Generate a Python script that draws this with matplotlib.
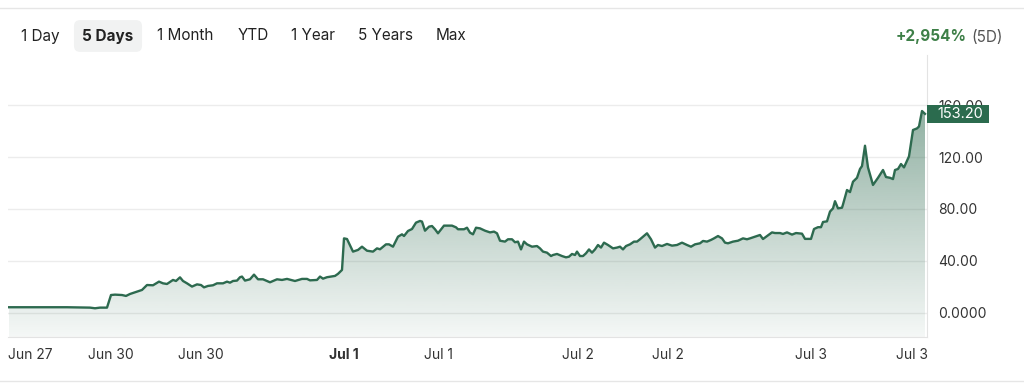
import numpy as np
import matplotlib
matplotlib.use('Agg')
import matplotlib.pyplot as plt
from matplotlib.lines import Line2D
from matplotlib.patches import Rectangle

plt.rcParams['font.family'] = ['Inter', 'DejaVu Sans']

# Время (условные единицы по оси x) и цена
t = [1, 25, 59, 82, 87, 92, 99, 103, 107, 114, 118, 122, 129, 134, 139, 145, 151, 155, 159,
     165, 168, 172, 175, 179, 184, 189, 193, 196, 200, 205, 209, 215, 219, 222, 225, 229,
     232, 234, 237, 242, 246, 250, 255, 262, 269, 274, 279, 287, 294, 299, 302, 309, 312,
     315, 319, 327, 330, 334, 336, 339, 345, 350, 354, 359, 365, 369, 372, 378, 381, 385,
     390, 394, 396, 400, 404, 408, 412, 414, 417, 421, 424, 427, 430, 436, 444, 448, 450,
     456, 459, 462, 465, 468, 472, 477, 482, 486, 489, 492, 497, 500, 504, 507, 510, 513,
     516, 519, 524, 529, 532, 535, 539, 543, 545, 549, 554, 558, 561, 564, 567, 569, 572,
     575, 578, 581, 584, 587, 590, 593, 596, 600, 605, 609, 612, 615, 618, 622, 626, 629,
     632, 639, 643, 647, 650, 654, 659, 664, 669, 674, 679, 683, 687, 692, 695, 699, 703,
     706, 710, 714, 717, 720, 725, 730, 735, 739, 742, 747, 752, 755, 764, 767, 772, 775,
     779, 784, 788, 794, 797, 803, 806, 810, 813, 815, 819, 822, 825, 827, 830, 834, 835,
     839, 842, 845, 849, 852, 854, 857, 860, 865, 870, 875, 878, 882, 885, 887, 890, 893,
     896, 901, 905, 909, 911, 914, 917]
price = [4.4, 4.4, 4.4, 4.1, 3.6, 4.1, 4.1, 13.8, 14.1, 13.8, 13.1, 14.6, 16.4, 17.7, 21.5,
         21.3, 24.1, 22.8, 22.3, 25.4, 24.6, 27.4, 24.6, 22.8, 20.3, 22.0, 21.5, 19.7, 20.8,
         21.3, 22.8, 22.8, 24.1, 23.3, 24.6, 24.9, 27.5, 28.0, 24.9, 25.9, 29.5, 25.9, 25.9,
         23.6, 25.9, 25.4, 26.2, 24.6, 26.2, 26.2, 25.1, 25.4, 28.0, 26.4, 27.5, 28.5, 30.1,
         33.1, 57.4, 56.9, 47.2, 48.5, 51.0, 47.9, 47.2, 49.7, 49.0, 52.8, 52.8, 51.0, 58.7,
         60.5, 59.2, 63.1, 64.6, 69.5, 70.8, 70.3, 63.3, 66.4, 66.9, 64.4, 61.3, 67.2, 67.2,
         65.9, 64.4, 64.4, 65.6, 61.8, 60.5, 65.6, 65.1, 63.3, 62.0, 62.6, 61.3, 55.6, 54.9,
         56.7, 56.7, 54.4, 54.9, 48.9, 54.9, 52.8, 51.0, 51.5, 49.7, 47.2, 46.4, 43.8, 44.6,
         45.4, 43.8, 42.8, 43.3, 45.4, 44.6, 47.2, 43.8, 43.8, 45.9, 48.9, 46.4, 48.9, 52.3,
         50.3, 54.1, 52.3, 49.7, 50.3, 51.0, 48.9, 51.5, 52.8, 54.9, 54.9, 56.7, 61.3, 56.7,
         50.3, 52.3, 51.5, 53.1, 51.8, 52.3, 54.1, 52.3, 51.0, 52.8, 53.6, 55.4, 54.9, 56.2,
         57.4, 59.2, 57.4, 54.1, 53.6, 54.9, 55.6, 57.4, 56.7, 57.4, 58.7, 60.0, 56.9, 62.0,
         61.5, 61.5, 60.8, 62.0, 60.3, 61.5, 61.0, 57.0, 57.0, 64.6, 66.0, 66.0, 70.0, 70.5,
         78.0, 80.5, 86.0, 80.5, 81.0, 83.5, 94.6, 93.0, 101.0, 104.0, 110.8, 113.0, 128.7,
         112.0, 98.5, 104.0, 110.0, 104.6, 104.0, 103.0, 110.0, 110.8, 114.6, 112.0, 120.5,
         140.8, 142.0, 143.5, 155.4, 153.2]

x_ticks = [22, 103, 193, 336, 431, 570, 660, 803, 904]
x_labels = ['Jun 27', 'Jun 30', 'Jun 30', 'Jul 1', 'Jul 1', 'Jul 2', 'Jul 2', 'Jul 3', 'Jul 3']
y_ticks = [0, 40, 80, 120, 160]
y_labels = ['0.0000', '40.00', '80.00', '120.00', '160.00']
buttons = ['1 Day', '5 Days', '1 Month', 'YTD', '1 Year', '5 Years', 'Max']
button_x = [40, 108, 185, 253, 313, 386, 451]

GREEN = '#2d6a4f'
W, H = 1024, 384

fig = plt.figure(figsize=(W / 100, H / 100), dpi=100)
fig.patch.set_facecolor('white')
ax = fig.add_axes([8 / W, (H - 337) / H, 919 / W, 282 / H])

ymin, ymax = -18.5, 198.5
xmin, xmax = 0, 919
ax.set_xlim(xmin, xmax)
ax.set_ylim(ymin, ymax)

# сетка
for yv in y_ticks:
    ax.axhline(yv, color='#ececec', lw=1, zorder=0)

# градиентная заливка под линией
grad = np.linspace(0.05, 0.64, 256).reshape(-1, 1)
rgba = np.zeros((256, 1, 4))
rgba[..., 0] = 0x2d / 255
rgba[..., 1] = 0x6a / 255
rgba[..., 2] = 0x4f / 255
rgba[..., 3] = grad
poly = ax.fill_between(t, price, ymin, color='none', lw=0)
img = ax.imshow(rgba, extent=(xmin, xmax, ymin, ymax), origin='lower',
                aspect='auto', zorder=1, interpolation='bilinear')
img.set_clip_path(poly.get_paths()[0], transform=ax.transData)

ax.plot(t, price, color=GREEN, lw=1.7, zorder=3, solid_joinstyle='round')

for s in ['top', 'left']:
    ax.spines[s].set_visible(False)
ax.spines['bottom'].set_color('#e3e3e3')
ax.spines['right'].set_color('#e3e3e3')

ax.yaxis.tick_right()
ax.set_yticks(y_ticks)
ax.set_yticklabels(y_labels)
ax.set_xticks(x_ticks)
ax.set_xticklabels(x_labels)
ax.tick_params(axis='both', length=0, labelsize=10, labelcolor='#333333')
ax.tick_params(axis='y', pad=8)
ax.tick_params(axis='x', pad=8)
ax.get_xticklabels()[3].set_fontweight('bold')

# метка последней цены
ytr = ax.get_yaxis_transform()
box_h = 18 / 1.3
ax.add_patch(Rectangle((1.0, price[-1] - box_h / 2 - 0.4), 62 / 919, box_h, transform=ytr,
                       fc='#2b6b4e', ec='none', zorder=9, clip_on=False))
ax.text(1.0 + 10 / 919, price[-1] - 0.4, f'{price[-1]:.2f}', transform=ytr,
        ha='left', va='center', color='white', fontsize=10.5, zorder=10, clip_on=False)

# кнопки периодов
for lbl, bx in zip(buttons, button_x):
    kw = {}
    if lbl == '5 Days':
        kw = dict(fontweight='bold',
                  bbox=dict(boxstyle='round,pad=0.55,rounding_size=0.4', fc='#f1f2f2', ec='none'))
    fig.text(bx / W, 1 - 36 / H, lbl, ha='center', va='center', fontsize=11,
             color='#222222', **kw)

fig.text(967 / W, 1 - 37 / H, '+2,954%', ha='right', va='center', fontsize=11,
         fontweight='bold', color='#3d7f47')
fig.text(971 / W, 1 - 37 / H, '(5D)', ha='left', va='center', fontsize=11, color='#555555')

# рамка карточки
fig.add_artist(Line2D([0, 1], [1 - 8 / H, 1 - 8 / H], color='#e6e6e6', lw=1))
fig.add_artist(Line2D([0, 1], [1 - 381 / H, 1 - 381 / H], color='#e6e6e6', lw=1))

fig.savefig('out.png', dpi=100)
